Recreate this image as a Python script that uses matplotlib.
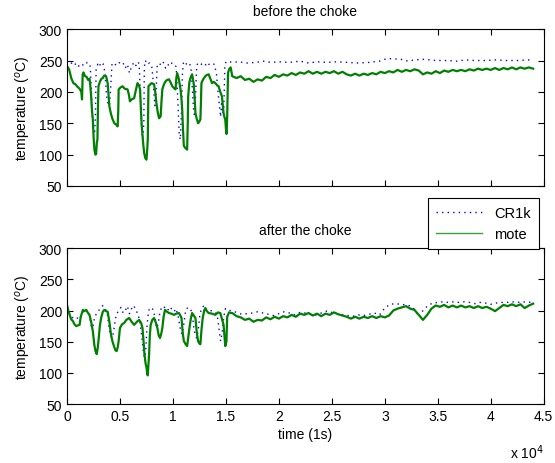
import numpy as np
import matplotlib
matplotlib.use('Agg')
import matplotlib.pyplot as plt
from matplotlib.lines import Line2D
from matplotlib.ticker import FuncFormatter

plt.rcParams['font.family'] = ['Liberation Sans', 'DejaVu Sans']
plt.rcParams['font.size'] = 10

# --- before the choke ---
t_mote_before = [0, 200, 400, 600, 800, 1000, 1200, 1350, 1420, 1480, 1560, 1700, 1850, 2000, 2125, 2200,
                 2280, 2360, 2440, 2520, 2590, 2680, 2750, 2820, 2875, 2930, 2970, 3100, 3250, 3375, 3500,
                 3690, 3840, 3920, 4000, 4150, 4310, 4470, 4625, 4780, 4840, 4875, 5050, 5250, 5450, 5720,
                 5850, 5940, 6100, 6340, 6500, 6660, 6800, 6900, 6980, 7060, 7180, 7280, 7400, 7500, 7580,
                 7625, 7660, 7690, 7850, 8000, 8220, 8330, 8440, 8560, 8690, 8840, 8920, 9000, 9150, 9310,
                 9450, 9625, 9780, 9940, 10100, 10250, 10320, 10400, 10550, 10720, 10800, 10875, 10950,
                 11030, 11200, 11340, 11400, 11440, 11550, 11650, 11810, 11970, 12050, 12125, 12250, 12375,
                 12500, 12590, 12640, 12690, 12850, 13060, 13200, 13375, 13550, 13690, 13850, 14000, 14150,
                 14310, 14470, 14625, 14700, 14780, 14860, 14940, 15030, 15060, 15120, 15200, 15300, 15450,
                 15600, 16000, 16400, 16800, 17200, 17600, 18000, 18400, 18800, 19200, 19600, 20000, 20400,
                 20800, 21200, 21600, 22000, 22400, 22800, 23200, 23600, 24000, 24400, 24800, 25200, 25600,
                 26000, 26400, 26800, 27200, 27600, 28000, 28400, 28800, 29200, 29600, 30000, 30400, 30800,
                 31200, 31600, 32000, 32400, 32800, 33200, 33600, 34000, 34400, 34800, 35200, 35600, 36000,
                 36400, 36800, 37200, 37600, 38000, 38400, 38800, 39200, 39600, 40000, 40400, 40800, 41200,
                 41600, 42000, 42400, 42800, 43200, 43600, 44000]
mote_before = [241, 236, 222, 214, 212, 208, 205, 200, 188, 228, 231, 225, 224, 219, 221, 210,
               193, 170, 156, 125, 108, 100, 101, 120, 124, 180, 209, 216, 221, 222, 226,
               225, 214, 195, 177, 165, 156, 150, 148, 145, 170, 204, 207, 209, 205, 204,
               195, 185, 188, 190, 203, 214, 210, 204, 170, 145, 120, 103, 94, 92, 110,
               124, 170, 209, 212, 214, 212, 200, 182, 168, 158, 161, 185, 204, 212, 217,
               219, 220, 215, 209, 206, 204, 222, 230, 221, 204, 190, 172, 140,
               114, 110, 108, 150, 193, 215, 222, 228, 212, 190, 166, 157, 150,
               153, 156, 180, 214, 220, 225, 227, 228, 220, 214, 216, 214, 211,
               209, 200, 193, 180, 166, 160, 156, 135, 133, 160, 230, 236, 239,
               225, 222, 225, 219, 221, 216, 220, 218, 224, 222, 227, 224, 228,
               226, 230, 227, 231, 229, 233, 229, 232, 229, 232, 230, 233, 229,
               232, 228, 226, 229, 226, 229, 227, 230, 228, 232, 230, 233, 231,
               235, 232, 235, 233, 236, 234, 228, 231, 229, 233, 230, 234, 232,
               235, 233, 235, 233, 236, 234, 237, 235, 237, 235, 238, 235, 238,
               236, 239, 236, 239, 237, 239, 237]

t_cr1k_before = [0, 150, 300, 500, 700, 900, 1100, 1300, 1500, 1700, 1900, 2100, 2200, 2300, 2400, 2500,
                 2600, 2680, 2750, 2900, 3050, 3200, 3400, 3600, 3700, 3800, 3900, 4000, 4100, 4250, 4500,
                 4700, 4850, 5100, 5300, 5500, 5700, 5900, 6100, 6300, 6500, 6700, 6800, 6850, 6950, 7050,
                 7150, 7250, 7300, 7400, 7550, 7800, 8000, 8100, 8200, 8300, 8400, 8500, 8700, 8900, 9100,
                 9300, 9500, 9700, 9900, 10100, 10300, 10400, 10500, 10600, 10700, 10800, 10900, 11000,
                 11200, 11500, 11700, 11850, 11950, 12050, 12150, 12250, 12450, 12700, 13000, 13200, 13400,
                 13600, 13900, 14100, 14250, 14400, 14500, 14600, 14700, 14800, 14900, 15000, 15300, 15600,
                 16200, 17000, 17800, 18500, 19300, 20000, 21000, 22000, 22800, 23600, 24500, 25500, 26500,
                 27500, 28500, 29500, 30000, 30600, 31500, 32200, 32800, 33800, 34800, 35800, 36800, 37600,
                 38500, 39500, 40500, 41500, 42500, 43500, 44000]
cr1k_before = [249, 246, 244, 247, 243, 246, 241, 245, 243, 242, 247, 245, 240, 200, 160, 135,
               132, 160, 235, 244, 240, 247, 245, 230, 200, 185, 180, 178, 200, 245, 242,
               246, 248, 244, 246, 238, 244, 230, 240, 247, 242, 248, 245, 230, 180, 140,
               125, 150, 240, 250, 244, 246, 240, 225, 200, 178, 195, 240, 246, 242, 247,
               238, 244, 241, 246, 245, 240, 210, 170, 130, 124, 165, 230, 248,
               244, 247, 240, 200, 170, 160, 200, 243, 247, 244, 246, 240, 244,
               246, 244, 230, 200, 175, 160, 185, 165, 175, 240, 248, 248, 247,
               248, 246, 247, 249, 247, 248, 247, 249, 246, 248, 247, 248, 247,
               246, 247, 249, 252, 253, 252, 249, 251, 252, 250, 250, 249, 251,
               250, 250, 251, 250, 250, 251, 251]

# --- after the choke ---
t_mote_after = [0, 120, 250, 400, 560, 700, 875, 1000, 1190, 1300, 1500, 1650, 1810, 1950, 2125, 2300,
                2440, 2580, 2690, 2810, 2900, 3000, 3100, 3220, 3380, 3530, 3700, 3840, 4000, 4150, 4300,
                4470, 4580, 4690, 4800, 4875, 5000, 5200, 5400, 5600, 5870, 6100, 6340, 6600, 6810, 7000,
                7125, 7230, 7310, 7420, 7500, 7580, 7625, 7700, 7750, 7820, 7900, 8050, 8220, 8400, 8530,
                8660, 8780, 8900, 9000, 9120, 9250, 9450, 9625, 9850, 10100, 10300, 10560, 10700, 10810,
                10920, 11030, 11200, 11340, 11450, 11560, 11700, 11810, 11970, 12125, 12250, 12375, 12500,
                12590, 12700, 12810, 12950, 13060, 13200, 13375, 13700, 14000, 14250, 14470, 14600, 14780,
                14860, 14940, 15050, 15120, 15300, 15530,
                15600, 16000, 16400, 16800, 17200, 17600, 18000, 18400, 18800, 19200, 19600, 20000, 20400,
                20800, 21200, 21600, 22000, 22400, 22800, 23200, 23600, 24000, 24400, 24800, 25200, 25600,
                26000, 26400, 26800, 27200, 27600, 28000, 28400, 28800, 29200, 29600, 30000, 30400, 30800,
                31200, 31600, 32000, 32400, 32800, 33200, 33600, 34000, 34400, 34800, 35200, 35600, 36000,
                36400, 36800, 37200, 37600, 38000, 38400, 38800, 39200, 39600, 40000, 40400, 40800, 41200,
                41600, 42000, 42400, 42800, 43200, 43600, 44000]
mote_after = [209, 200, 193, 186, 183, 178, 175, 176, 177, 190, 201, 199, 201, 197, 193, 180,
              167, 145, 135, 130, 140, 156, 175, 188, 198, 201, 199, 198, 182, 162, 150,
              141, 136, 135, 142, 151, 172, 178, 180, 185, 188, 182, 177, 182, 185, 180,
              172, 150, 130, 115, 109, 98, 96, 115, 130, 160, 177, 185, 188, 180, 172,
              160, 156, 163, 172, 190, 201, 198, 196, 195, 193, 195, 196, 192, 188,
              165, 151, 146, 143, 158, 172, 188, 196, 192, 188, 165, 151, 147,
              146, 170, 188, 200, 204, 199, 196, 195, 193, 197, 196, 188, 177,
              160, 143, 150, 190, 197, 196,
              196, 191, 189, 185, 187, 182, 185, 184, 189, 186, 190, 187, 191,
              189, 193, 190, 195, 193, 196, 192, 195, 191, 195, 193, 197, 194,
              192, 190, 187, 190, 187, 190, 188, 191, 188, 191, 189, 192, 200,
              203, 205, 207, 203, 201, 193, 185, 193, 203, 208, 206, 209, 205,
              208, 205, 208, 205, 207, 204, 207, 204, 206, 203, 199, 204, 209,
              207, 210, 207, 210, 204, 208, 211]

t_cr1k_after = [0, 200, 400, 600, 800, 1000, 1200, 1400, 1600, 1800, 2000, 2150, 2300, 2400, 2500, 2600,
                2800, 3000, 3200, 3400, 3600, 3800, 3950, 4100, 4250, 4400, 4550, 4700, 4900, 5100, 5300,
                5500, 5700, 5900, 6100, 6300, 6500, 6700, 6900, 7050, 7200, 7350, 7450, 7550, 7700, 7900,
                8100, 8300, 8450, 8600, 8750, 8900, 9100, 9300, 9500, 9700, 9900, 10100, 10300, 10500,
                10700, 10850, 11000, 11200, 11400, 11600, 11800, 11950, 12100, 12250, 12400, 12550, 12750,
                12950, 13150, 13400, 13700, 14000, 14200, 14350, 14500, 14650, 14800, 14950, 15200, 15500,
                16000, 16500, 17000, 17500, 18000, 18500, 19000, 19500, 20000, 20500, 21000, 21500, 22000,
                22500, 23000, 23500, 24000, 24500, 25000, 25500, 26000, 26500, 27000, 27500, 28000, 28500,
                29000, 29500, 30000, 30500, 31000, 31500, 32000, 32500, 32900, 33200, 33500, 34000, 34500,
                35000, 35500, 36000, 36500, 37000, 37500, 38000, 38500, 39000, 39500, 40000, 40500, 41000,
                41500, 42000, 42500, 43000, 43500, 44000]
cr1k_after = [205, 197, 190, 188, 186, 188, 185, 195, 200, 202, 198, 190, 175, 172, 178, 190,
              195, 200, 205, 208, 203, 195, 175, 160, 156, 165, 185, 195, 200, 205, 196,
              200, 207, 195, 203, 208, 200, 195, 180, 160, 135, 120, 140, 175, 200, 205,
              202, 190, 172, 178, 195, 204, 207, 203, 200, 206, 202, 198, 203, 190,
              170, 162, 175, 200, 205, 203, 198, 175, 160, 156, 170, 195, 205,
              208, 202, 199, 200, 197, 190, 170, 151, 165, 190, 203, 200, 200,
              197, 194, 195, 196, 198, 196, 194, 192, 195, 198, 196, 193, 197,
              196, 194, 193, 196, 199, 197, 195, 193, 192, 191, 193, 192, 194,
              196, 193, 204, 210, 211, 210, 209, 207, 200, 190, 198, 207, 212,
              213, 214, 213, 214, 213, 214, 213, 211, 213, 212, 210, 212, 213,
              213, 214, 213, 214, 213, 214]

fig = plt.figure(figsize=(5.55, 4.64), dpi=100)
ax1 = fig.add_axes([0.1207, 0.597, 0.859, 0.338])
ax2 = fig.add_axes([0.1207, 0.127, 0.859, 0.336])

blue = (0, 0, 1)
green = (0, 0.5, 0)
dots = (0, (1, 3))

for ax, tc, c, tm, m, title in [
        (ax1, t_cr1k_before, cr1k_before, t_mote_before, mote_before, 'before the choke'),
        (ax2, t_cr1k_after, cr1k_after, t_mote_after, mote_after, 'after the choke')]:
    ax.plot(tc, c, color=blue, lw=1.0, linestyle=dots)
    ax.plot(tm, m, color=green, lw=1.6)
    ax.set_xlim(0, 45000)
    ax.set_ylim(50, 300)
    ax.set_xticks(np.arange(0, 45001, 5000))
    ax.set_yticks([50, 100, 150, 200, 250, 300])
    ax.tick_params(direction='in', top=True, right=True, length=4, width=0.8, labelsize=10)
    ax.set_ylabel('temperature ($^o$C)', fontsize=10, labelpad=4)
    ax.set_title(title, fontsize=10, pad=10)
    for s in ax.spines.values():
        s.set_linewidth(0.8)

ax1.set_xticklabels([])
ax2.xaxis.set_major_formatter(FuncFormatter(lambda v, p: '%g' % (v / 1e4)))
ax2.set_xlabel('time (1s)', fontsize=10, labelpad=3)
ax2.text(1.0, -0.245, 'x 10$^4$', transform=ax2.transAxes, ha='right', va='top', fontsize=10)

handles = [Line2D([], [], color=blue, lw=1.0, linestyle=dots),
           Line2D([], [], color=(0.2, 0.65, 0.2), lw=1.0)]
leg = fig.legend(handles, ['CR1k', 'mote'], loc='upper right',
                 bbox_to_anchor=(546 / 555, 1 - 192 / 464),
                 fancybox=False, framealpha=1, edgecolor='black', fontsize=10.5,
                 handlelength=3.2, borderpad=0.55, labelspacing=0.45)
leg.get_frame().set_linewidth(0.8)

fig.savefig('out.png', dpi=100)
